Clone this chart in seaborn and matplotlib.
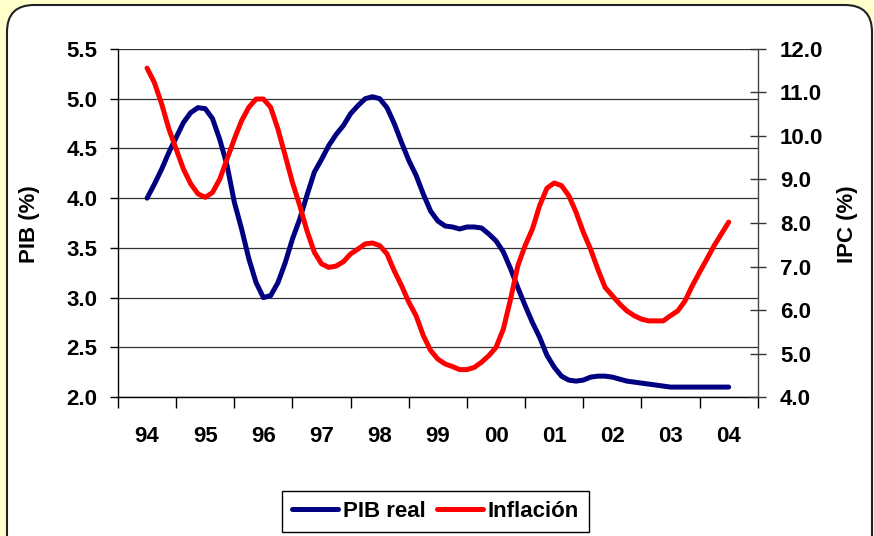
import numpy as np
import pandas as pd
import matplotlib
matplotlib.use("Agg")
import matplotlib.pyplot as plt
import seaborn as sns
from matplotlib.patches import FancyBboxPatch

# Year categories on the x axis
years = ["94", "95", "96", "97", "98", "99", "00", "01", "02", "03", "04"]

# Readings every 1/8 of a year, from 94 to 04
pib_real = [
    4.00, 4.14, 4.29, 4.46, 4.61, 4.76, 4.86, 4.91,   # 94
    4.90, 4.80, 4.59, 4.33, 3.96, 3.69, 3.39, 3.15,   # 95
    3.00, 3.02, 3.15, 3.35, 3.59, 3.79, 4.03, 4.26,   # 96
    4.39, 4.53, 4.64, 4.73, 4.85, 4.93, 5.00, 5.02,   # 97
    5.00, 4.91, 4.75, 4.56, 4.38, 4.23, 4.04, 3.87,   # 98
    3.77, 3.72, 3.71, 3.69, 3.71, 3.71, 3.70, 3.64,   # 99
    3.57, 3.46, 3.29, 3.10, 2.92, 2.75, 2.60, 2.42,   # 00
    2.30, 2.21, 2.17, 2.16, 2.17, 2.20, 2.21, 2.21,   # 01
    2.20, 2.18, 2.16, 2.15, 2.14, 2.13, 2.12, 2.11,   # 02
    2.10, 2.10, 2.10, 2.10, 2.10, 2.10, 2.10, 2.10,   # 03
    2.10,                                             # 04
]
inflacion = [
    11.56, 11.23, 10.74, 10.16, 9.70, 9.24, 8.90, 8.67,   # 94
    8.59, 8.70, 9.01, 9.47, 9.93, 10.35, 10.66, 10.85,    # 95
    10.85, 10.66, 10.16, 9.55, 8.93, 8.40, 7.82, 7.33,    # 96
    7.06, 6.98, 7.01, 7.11, 7.29, 7.40, 7.52, 7.54,       # 97
    7.48, 7.29, 6.90, 6.56, 6.18, 5.87, 5.41, 5.07,       # 98
    4.87, 4.76, 4.70, 4.63, 4.63, 4.68, 4.80, 4.95,       # 99
    5.14, 5.56, 6.25, 7.02, 7.48, 7.86, 8.40, 8.80,       # 00
    8.92, 8.86, 8.63, 8.25, 7.79, 7.40, 6.94, 6.52,       # 01
    6.33, 6.14, 5.98, 5.87, 5.79, 5.75, 5.75, 5.75,       # 02
    5.87, 5.98, 6.21, 6.56, 6.87, 7.17, 7.48, 7.75,       # 03
    8.02,                                                 # 04
]

pib_ticks = [2.0, 2.5, 3.0, 3.5, 4.0, 4.5, 5.0, 5.5]
ipc_ticks = [4.0, 5.0, 6.0, 7.0, 8.0, 9.0, 10.0, 11.0, 12.0]

BLUE = "#000080"
RED = "#FF0000"
BG_YELLOW = "#FFFFCC"
FS = 16

sns.set_theme(style="white")
plt.rcParams["font.family"] = ["Liberation Sans", "DejaVu Sans"]
plt.rcParams.update({
    "font.weight": "bold",
    "text.color": "black",
    "axes.labelcolor": "black",
    "xtick.color": "black",
    "ytick.color": "black",
})

# 8 readings per year category, first one at the centre of "94"
df = pd.DataFrame({"pib": pib_real, "ipc": inflacion})
df["pos"] = 0.5 + np.arange(len(df)) / 8

fig = plt.figure(figsize=(8.74, 5.36), dpi=100, facecolor=BG_YELLOW)
panel = FancyBboxPatch((0.07, -0.5), 8.65, 5.81,
                       boxstyle="round,pad=0,rounding_size=0.27",
                       transform=fig.dpi_scale_trans, facecolor="white",
                       edgecolor="#222222", linewidth=1.5, zorder=-5)
fig.add_artist(panel)

ax = fig.add_axes([0.135, 0.2593, 0.732, 0.6493])
ax.set_facecolor("none")
ax2 = ax.twinx()

sns.lineplot(data=df, x="pos", y="pib", ax=ax, color=BLUE, linewidth=3.6,
             label="PIB real", legend=False, solid_capstyle="round",
             solid_joinstyle="round")
sns.lineplot(data=df, x="pos", y="ipc", ax=ax2, color=RED, linewidth=3.6,
             label="Inflación", legend=False, solid_capstyle="round",
             solid_joinstyle="round")

# x axis: ticks between categories, labels centred
ax.set_xlim(0, len(years))
ax.set_xticks(np.arange(len(years) + 1))
ax.set_xticklabels([])
ax.set_xticks(np.arange(len(years)) + 0.5, minor=True)
ax.set_xticklabels(years, minor=True, fontsize=FS, fontweight="bold")
ax.tick_params(axis="x", which="major", direction="out", length=8, width=1,
               bottom=True)
ax.tick_params(axis="x", which="minor", length=0, pad=21)
ax.set_xlabel("")

# left axis
ax.set_ylim(2.0, 5.5)
ax.set_yticks(pib_ticks)
ax.set_yticklabels([f"{v:.1f}" for v in pib_ticks], fontsize=FS, fontweight="bold")
ax.tick_params(axis="y", direction="out", length=6, width=1, pad=9, left=True)
ax.yaxis.grid(True, color="#333333", linewidth=0.9)
ax.set_ylabel("")

# right axis
ax2.set_ylim(4.0, 12.0)
ax2.set_yticks(ipc_ticks)
ax2.set_yticklabels([f"{v:.1f}" for v in ipc_ticks], fontsize=FS, fontweight="bold")
ax2.tick_params(axis="y", direction="inout", length=12, width=1, pad=10,
                right=True, colors="#333333", labelcolor="black")
ax2.set_ylabel("")
ax2.grid(False)

for name, sp in ax.spines.items():
    sp.set_visible(name in ("left", "bottom"))
    sp.set_color("black")
    sp.set_linewidth(1)
for name, sp in ax2.spines.items():
    sp.set_visible(name == "right")
    sp.set_color("#444444")
    sp.set_linewidth(1)

fig.text(30 / 874, 1 - 224 / 536, "PIB (%)", rotation=90, ha="center",
         va="center", fontsize=FS, fontweight="bold")
fig.text(847 / 874, 1 - 224 / 536, "IPC (%)", rotation=90, ha="center",
         va="center", fontsize=FS, fontweight="bold")

handles = [ax.lines[0], ax2.lines[0]]
leg = fig.legend(handles, ["PIB real", "Inflación"], loc="lower center",
                 bbox_to_anchor=(0.498, 0.008), ncol=2, frameon=True,
                 fancybox=False, edgecolor="black", framealpha=1,
                 prop={"weight": "bold", "size": FS}, handlelength=2.1,
                 handletextpad=0.2, columnspacing=0.5, borderpad=0.45,
                 borderaxespad=0)
leg.get_frame().set_linewidth(1)

fig.savefig("out.png", dpi=100, facecolor=BG_YELLOW)
